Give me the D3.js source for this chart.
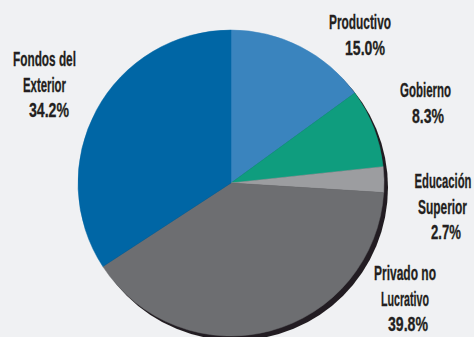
<!DOCTYPE html>
<html>
<head>
<meta charset="utf-8">
<script src="https://cdn.jsdelivr.net/npm/d3@7"></script>
<style>
  html, body { margin: 0; padding: 0; background: #f0f1f3; }
  svg { display: block; }
  .lbl { font-family: "Liberation Sans Narrow", "Liberation Sans", sans-serif; font-weight: bold; fill: #231f20; stroke: #231f20; stroke-width: 0.3; }
</style>
</head>
<body>
<svg id="chart" width="474" height="337"></svg>
<script>
// Distribution by source of funds (percent of total)
const categories = ["Productivo", "Gobierno", "Educación Superior", "Privado no Lucrativo", "Fondos del Exterior"];
const shares = [15.0, 8.3, 2.7, 39.8, 34.2];
const labelLines = [
  ["Productivo", "15.0%"],
  ["Gobierno", "8.3%"],
  ["Educación", "Superior", "2.7%"],
  ["Privado no", "Lucrativo", "39.8%"],
  ["Fondos del", "Exterior", "34.2%"]
];
const colors = ["#3a84be", "#0f9d7e", "#9c9da0", "#6d6e71", "#0066a5"];

// Label layout: first baseline for each block, plus per-line x-centre and width
const labelLayout = [
  { y: 29, lines: [{ x: 360, w: 62 }, { x: 365, w: 40 }] },
  { y: 97, lines: [{ x: 425.5, w: 51 }, { x: 428, w: 32 }] },
  { y: 188, lines: [{ x: 443, w: 57 }, { x: 442.5, w: 49 }, { x: 446, w: 30 }] },
  { y: 280, lines: [{ x: 405, w: 62 }, { x: 405, w: 48 }, { x: 408, w: 40 }] },
  { y: 66, lines: [{ x: 44.5, w: 63 }, { x: 44.5, w: 43 }, { x: 49, w: 40 }] }
];
const lineStep = 25.5;

const svg = d3.select("#chart");
const cx = 231, cy = 183, r = 153;

const pie = d3.pie().sort(null).value(d => d)(shares);
const arc = d3.arc().innerRadius(0).outerRadius(r);

const defs = svg.append("defs");
defs.append("filter").attr("id", "soft")
  .attr("x", "-10%").attr("y", "-10%").attr("width", "120%").attr("height", "120%")
  .append("feGaussianBlur").attr("stdDeviation", 0.6);

// Dark drop shadow behind the pie
svg.append("circle")
  .attr("cx", cx + 4).attr("cy", cy + 4.5).attr("r", r)
  .attr("fill", "#231f20")
  .attr("filter", "url(#soft)");

const g = svg.append("g").attr("transform", `translate(${cx},${cy})`);
g.selectAll("path.slice")
  .data(pie)
  .join("path")
  .attr("class", "slice")
  .attr("d", arc)
  .attr("fill", (d, i) => colors[i])
  .attr("stroke", (d, i) => colors[i])
  .attr("stroke-width", 0.5);

// Labels: condensed by a horizontal scale so each line fits its width
labelLines.forEach((lines, i) => {
  const lay = labelLayout[i];
  lines.forEach((t, j) => {
    const spec = lay.lines[j];
    const holder = svg.append("g");
    const txt = holder.append("text")
      .attr("class", "lbl")
      .attr("x", 0).attr("y", 0)
      .attr("text-anchor", "middle")
      .attr("font-size", 21)
      .text(t);
    const natural = txt.node().getComputedTextLength();
    const sx = spec.w / natural;
    holder.attr("transform", `translate(${spec.x},${lay.y + j * lineStep}) scale(${sx},1)`);
  });
});
</script>
</body>
</html>
